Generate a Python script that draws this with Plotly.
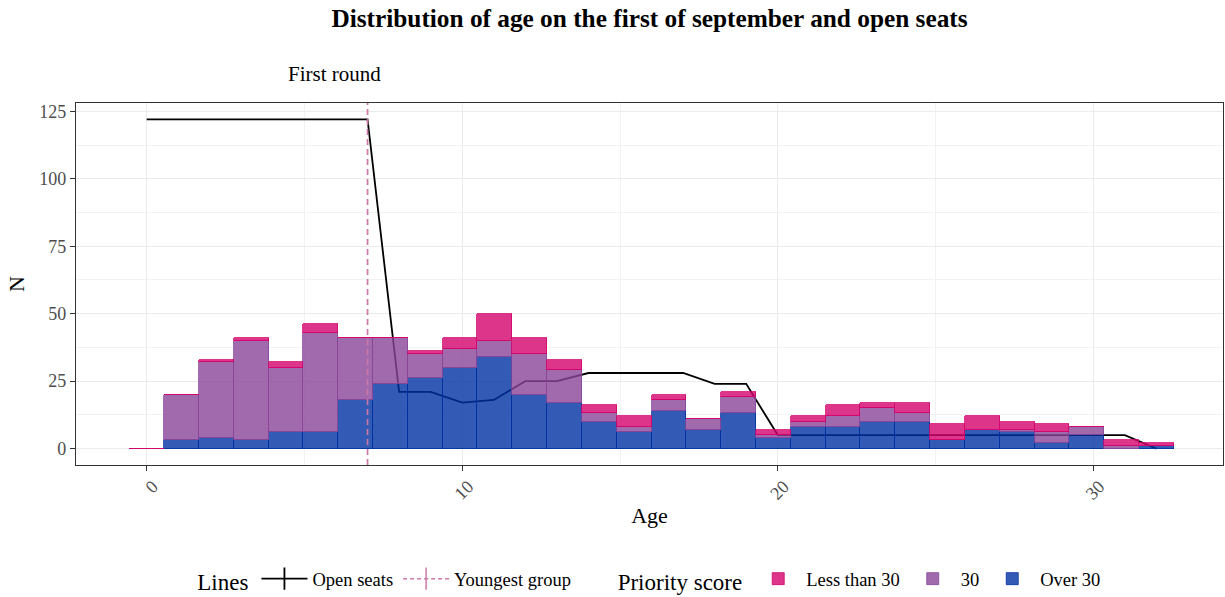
import numpy as np
import plotly.graph_objects as go

# ---------------- data ----------------
age_min, age_max, n_bins = 0, 32, 30          # histogram spec (ggplot-style, 30 bins)
over_30 = [0, 3, 4, 3, 6, 6, 18, 24, 26, 30, 34, 20, 17, 10, 6, 14, 7, 13, 4, 8, 8, 10, 10, 3, 7, 6, 2, 5, 0, 1]
score_30 = [0, 17, 28, 37, 24, 37, 23, 17, 9, 7, 6, 15, 12, 3, 2, 4, 4, 6, 1, 2, 4, 5, 3, 0, 0, 1, 4, 3, 1, 0]
less_30 = [0, 0, 1, 1, 2, 3, 0, 0, 1, 4, 10, 6, 4, 3, 4, 2, 0, 2, 2, 2, 4, 2, 4, 6, 5, 3, 3, 0, 2, 1]

seat_ages = list(range(0, 33))
open_seats = [122, 122, 122, 122, 122, 122, 122, 122, 21, 21, 17, 18, 25, 25, 28, 28, 28, 28,
              24, 24, 5, 5, 5, 5, 5, 5, 5, 5, 5, 5, 5, 5, 0]
youngest_group_age = 7

x_ticks = [0, 10, 20, 30]
y_ticks = [0, 25, 50, 75, 100, 125]

# ---------------- derived ----------------
binwidth = (age_max - age_min) / (n_bins - 1)
centers = age_min + binwidth * np.arange(n_bins)

x_range = [-2.24, 34.11]
y_range = [-6.1, 128.1]

SERIF = "Liberation Serif, Times New Roman, serif"
PINK, PURPLE, BLUE = "#D3026B", "#884599", "#0031A1"
VLINE = "#CC79A7"

def rgba(hexc, a):
    h = hexc.lstrip("#")
    return f"rgba({int(h[0:2],16)},{int(h[2:4],16)},{int(h[4:6],16)},{a})"

fig = go.Figure()

# open seats line (base axes, drawn beneath bars)
fig.add_trace(go.Scatter(x=seat_ages, y=open_seats, mode="lines",
                         line=dict(color="black", width=1.8),
                         showlegend=False, hoverinfo="skip", xaxis="x", yaxis="y"))

# legend-only entries for the "Lines" legend
fig.add_trace(go.Scatter(x=[None], y=[None], mode="lines+markers", name="Open seats",
                         line=dict(color="black", width=1.8),
                         marker=dict(symbol="line-ns", size=16, line=dict(color="black", width=1.8)),
                         legend="legend", legendrank=1))
fig.add_trace(go.Scatter(x=[None], y=[None], mode="lines+markers", name="Youngest group",
                         line=dict(color=VLINE, width=1.5, dash="4px,3px"),
                         marker=dict(symbol="line-ns", size=16, line=dict(color=VLINE, width=1.5)),
                         legend="legend", legendrank=2))

# stacked histogram bars (overlay axes, drawn above the line)
for vals, name, col, rank in [(over_30, "Over 30", BLUE, 3),
                              (score_30, "30", PURPLE, 2),
                              (less_30, "Less than 30", PINK, 1)]:
    fig.add_trace(go.Bar(x=centers, y=vals, width=binwidth, name=name,
                         marker=dict(color=rgba(col, 0.8), line=dict(color=col, width=0.8)),
                         xaxis="x2", yaxis="y2", legend="legend2", legendrank=rank))

fig.add_shape(type="line", x0=youngest_group_age, x1=youngest_group_age, xref="x",
              y0=0, y1=1, yref="paper", layer="above",
              line=dict(color=VLINE, width=1.7, dash="6px,4px"))

fig.add_annotation(text="First round", x=youngest_group_age - 1.06, xref="x",
                   y=1.08, yref="paper", yanchor="middle", xanchor="center", showarrow=False,
                   font=dict(family=SERIF, size=21, color="black"))

axis_common = dict(showline=True, linecolor="#333333", linewidth=1.1, mirror=True,
                   ticks="outside", ticklen=5, tickcolor="#333333", tickwidth=1.1,
                   tickfont=dict(family=SERIF, size=18, color="#4D4D4D"),
                   showgrid=True, gridcolor="#EBEBEB", gridwidth=1.3, zeroline=False)

fig.update_layout(
    width=1225, height=597,
    margin=dict(l=76, r=2, t=103, b=132, autoexpand=False),
    paper_bgcolor="white", plot_bgcolor="white",
    barmode="stack", bargap=0,
    font=dict(family=SERIF, color="black"),
    title=dict(text="<b>Distribution of age on the first of september and open seats</b>",
               x=0.5, xref="paper", xanchor="center", y=1 - 18 / 597, yref="container",
               yanchor="middle", font=dict(family=SERIF, size=25.3, color="black")),
    xaxis=dict(range=x_range, tickvals=x_ticks, tickangle=-45,
               ticklabelstandoff=-2, ticklabelshift=6,
               minor=dict(dtick=5, tick0=0, showgrid=True, gridcolor="#F2F2F2", gridwidth=0.7, ticks=""),
               title=dict(text="Age", font=dict(family=SERIF, size=22, color="black"), standoff=5),
               automargin=False, **axis_common),
    yaxis=dict(range=y_range, tickvals=y_ticks,
               minor=dict(dtick=12.5, tick0=0, showgrid=True, gridcolor="#F2F2F2", gridwidth=0.7, ticks=""),
               title=dict(text="N", font=dict(family=SERIF, size=22, color="black"), standoff=8),
               automargin=False, **axis_common),
    xaxis2=dict(overlaying="x", range=x_range, visible=False, showgrid=False),
    yaxis2=dict(overlaying="y", range=y_range, visible=False, showgrid=False),
    legend=dict(orientation="h", x=0.104, xanchor="left", y=-0.318, yanchor="middle",
                itemwidth=46, traceorder="normal",
                title=dict(text="Lines", side="left", font=dict(family=SERIF, size=23)),
                font=dict(family=SERIF, size=18.5, color="black"), bgcolor="rgba(0,0,0,0)"),
    legend2=dict(orientation="h", x=0.4705, xanchor="left", y=-0.318, yanchor="middle",
                 itemwidth=46, traceorder="normal",
                 title=dict(text="Priority score", side="left", font=dict(family=SERIF, size=23)),
                 font=dict(family=SERIF, size=18.5, color="black"), bgcolor="rgba(0,0,0,0)"),
)

fig.write_html("out.html", config={"displayModeBar": False},
               post_script="document.body.style.margin='0';document.body.style.padding='0';")
